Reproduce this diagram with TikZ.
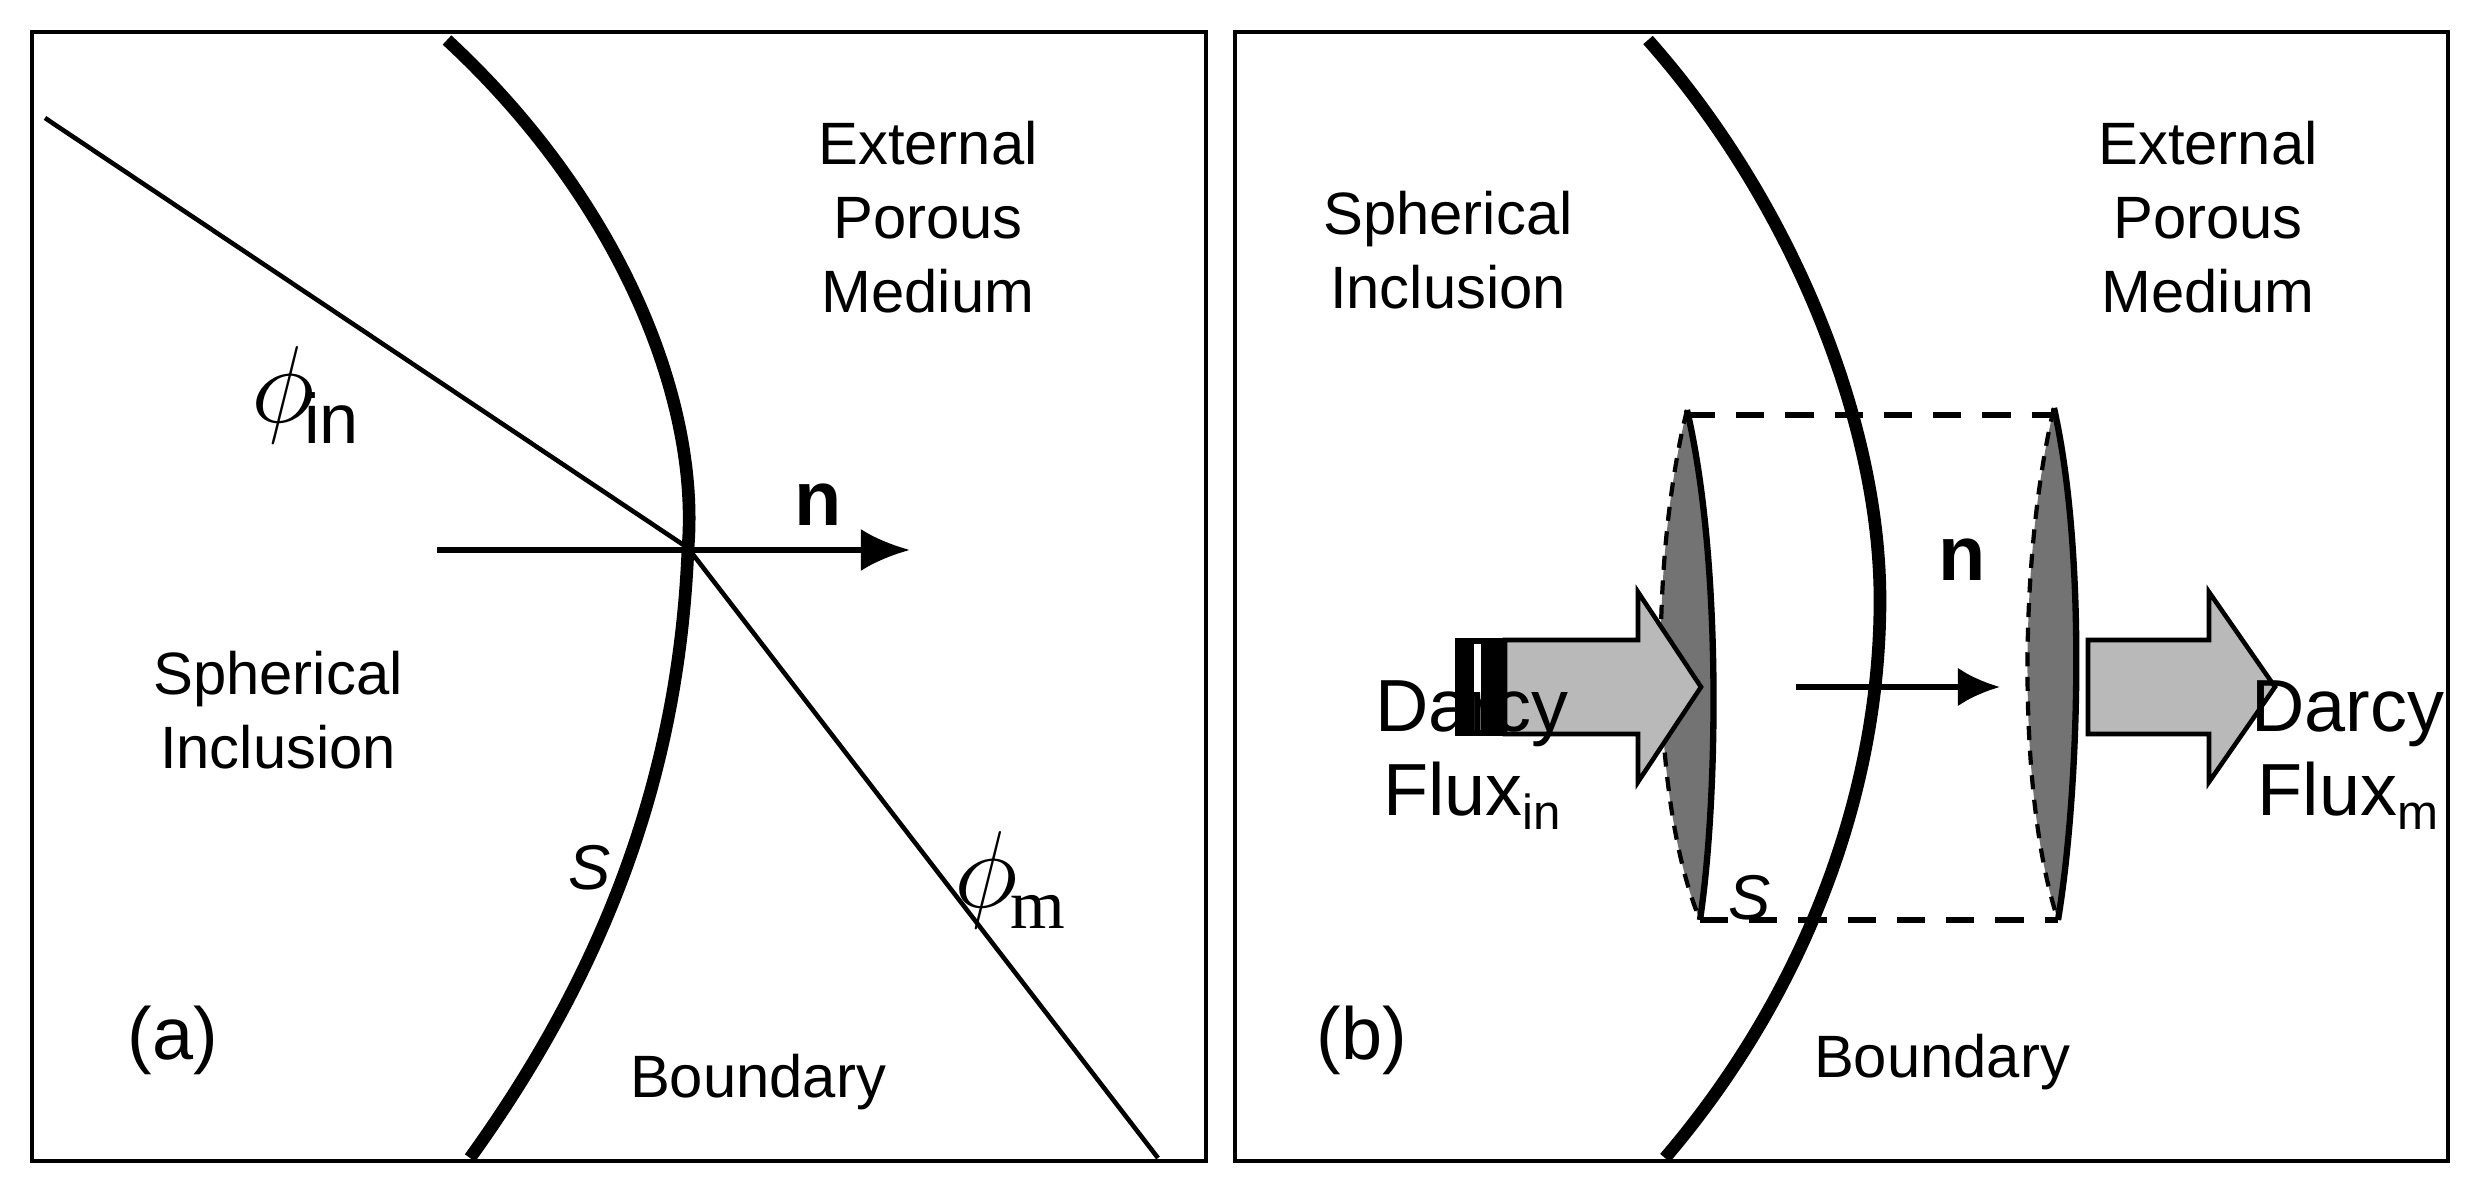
\documentclass[tikz,border=0pt]{standalone}
\usepackage{fontspec}
\setmainfont{Liberation Sans}
\usetikzlibrary{arrows.meta}
\begin{document}
\begin{tikzpicture}[x=0.01cm,y=-0.01cm,
 lbl/.style={font=\fontsize{17}{21}\selectfont,align=center},
 big/.style={font=\fontsize{21}{24}\selectfont,align=center},
 bnd/.style={line width=3.6pt},
 disc/.style={line width=1.2pt,dash pattern=on 4pt off 3pt,fill=black!55},
 fat/.style={draw,line width=1.3pt,fill=gray!55}]
\useasboundingbox (0,0) rectangle (2477,1201);
\node[draw,line width=1.2pt,minimum width=11.73cm,minimum height=11.28cm,anchor=north west] (pa) at (30,30) {};
\node[draw,line width=1.2pt,minimum width=12.12cm,minimum height=11.28cm,anchor=north west] (pb) at (1233,30) {};
% panel a
\coordinate (c) at (688,548);
\coordinate (lt) at (45,118);
\coordinate (lb) at (1158,1158);
\draw[line width=1.3pt] (lt) -- (c) -- (lb);
\draw[bnd] (447,40) .. controls (620,200) and (700,400) .. (c) .. controls (680,750) and (620,950) .. (470,1158);
\coordinate (na) at (437,550);
\coordinate (nb) at (910,550);
\draw[line width=1.6pt,-{Latex[length=14pt,width=12pt]}] (na) -- (nb);
\node[font=\fontsize{22}{26}\selectfont\bfseries\rmfamily] (n1) at (818,505) {n};
\node[font=\fontsize{20}{24}\selectfont] (pin) at (305,395) {\scalebox{1.5}{$\phi$}\kern-3pt\raisebox{-6pt}{in}};
\node[font=\fontsize{20}{24}\selectfont] (pm) at (1010,880) {\scalebox{1.5}{$\phi$}\kern-2pt\raisebox{-6pt}{\fontspec{Liberation Serif}m}};
\node[font=\fontsize{18}{21}\selectfont\itshape] (s1) at (590,868) {S};
\node[big] (la) at (173,1040) {(a)};
\node[lbl] (bd1) at (758,1082) {Boundary};
\node[lbl] (si1) at (278,710) {Spherical\\Inclusion};
\node[lbl] (ep1) at (928,217) {External\\Porous\\Medium};
% panel b
\draw[bnd] (1648,40) .. controls (1790,200) and (1880,420) .. (1880,600) .. controls (1880,800) and (1800,1000) .. (1665,1158);
% cylinder
\draw[line width=1.7pt,dash pattern=on 8pt off 6pt] (1687,415) -- (2054,415);
\draw[line width=1.7pt,dash pattern=on 8pt off 6pt] (1700,920) -- (2058,920);
\draw[disc] (1687,410) .. controls (1650,560) and (1650,800) .. (1700,920) .. controls (1718,800) and (1722,560) .. (1687,410);
\draw[line width=1.8pt] (1687,410) .. controls (1722,560) and (1718,800) .. (1700,920);
\draw[disc] (2054,408) .. controls (2018,560) and (2018,800) .. (2058,920) .. controls (2078,800) and (2088,560) .. (2054,408);
\draw[line width=1.8pt] (2054,408) .. controls (2088,560) and (2078,800) .. (2058,920);
% fat arrows
\draw[fat] (1505,640) -- (1638,640) -- (1638,592) -- (1701,687) -- (1638,782) -- (1638,734) -- (1505,734) -- cycle;
\fill (1455,638) rectangle (1505,736);
\fill[white] (1474,644) rectangle (1481,730);
\draw[fat] (2088,640) -- (2209,640) -- (2209,592) -- (2275,687) -- (2209,782) -- (2209,734) -- (2088,734) -- cycle;
\coordinate (ma) at (1796,687);
\coordinate (mb) at (2000,687);
\draw[line width=1.6pt,-{Latex[length=12pt,width=11pt]}] (ma) -- (mb);
\node[font=\fontsize{22}{26}\selectfont\bfseries\rmfamily] (n2) at (1962,560) {n};
\node[font=\fontsize{18}{21}\selectfont\itshape] (s2) at (1750,898) {S};
\node[big] (lb2) at (1362,1040) {(b)};
\node[lbl] (bd2) at (1942,1062) {Boundary};
\node[lbl] (si2) at (1448,250) {Spherical\\Inclusion};
\node[lbl] (ep2) at (2208,217) {External\\Porous\\Medium};
\node[big] (df1) at (1472,755) {Darcy\\Flux\raisebox{-4pt}{\fontsize{14}{16}\selectfont in}};
\node[big] (df2) at (2348,755) {Darcy\\Flux\raisebox{-4pt}{\fontsize{14}{16}\selectfont m}};
\end{tikzpicture}
\end{document}
